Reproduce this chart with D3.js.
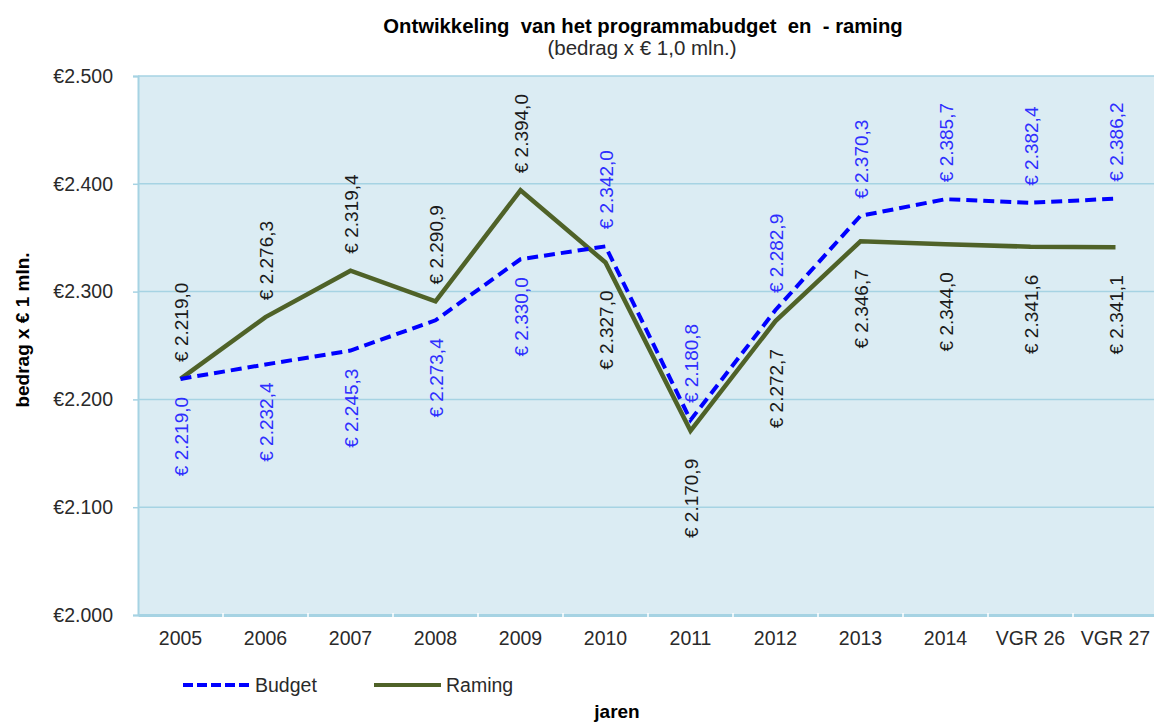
<!DOCTYPE html>
<html>
<head>
<meta charset="utf-8">
<script src="https://cdn.jsdelivr.net/npm/d3@7"></script>
<style>
  body { margin: 0; background: #fff; }
  svg { display: block; font-family: "Liberation Sans", Arial, sans-serif; }
</style>
</head>
<body>
<div class="js-chart"></div>
<script>
// chart data
var years = ['2005', '2006', '2007', '2008', '2009', '2010', '2011', '2012', '2013', '2014', 'VGR 26', 'VGR 27'];
var budget = [2219.0, 2232.4, 2245.3, 2273.4, 2330.0, 2342.0, 2180.8, 2282.9, 2370.3, 2385.7, 2382.4, 2386.2];
var raming = [2219.0, 2276.3, 2319.4, 2290.9, 2394.0, 2327.0, 2170.9, 2272.7, 2346.7, 2344.0, 2341.6, 2341.1];
var yTicks = [2000, 2100, 2200, 2300, 2400, 2500];

var width = 1154, height = 722;
var margin = {top: 76, right: -4, bottom: 107, left: 138};

var svg = d3.select('.js-chart').append('svg')
  .attr('width', width)
  .attr('height', height);

var xScale = d3.scaleBand()
  .domain(years)
  .range([margin.left, width - margin.right]);

var yScale = d3.scaleLinear()
  .domain([2000, 2500])
  .range([height - margin.bottom, margin.top]);

function xc(d) { return xScale(d) + xScale.bandwidth() / 2; }

function euro(v) {
  // 2219.0 -> "€ 2.219,0"
  var s = v.toFixed(1).split('.');
  var th = s[0].replace(/\B(?=(\d{3})+(?!\d))/g, '.');
  return '€ ' + th + ',' + s[1];
}

// plot background
svg.append('rect')
  .attr('x', margin.left)
  .attr('y', margin.top)
  .attr('width', xScale.range()[1] - margin.left)
  .attr('height', yScale(2000) - margin.top)
  .attr('fill', '#dbecf3');

// gridlines
svg.append('g')
  .selectAll('line')
  .data(yTicks.slice(1))
  .enter()
  .append('line')
  .attr('x1', margin.left)
  .attr('x2', xScale.range()[1])
  .attr('y1', function(d) { return yScale(d); })
  .attr('y2', function(d) { return yScale(d); })
  .attr('stroke', '#a6d3e3')
  .attr('stroke-width', 1.5);

// y axis
var yAxis = d3.axisLeft(yScale)
  .tickValues(yTicks)
  .tickSize(5)
  .tickPadding(20)
  .tickFormat(function(d) { return '€' + d3.format(',')(d).replace(',', '.'); });

var gy = svg.append('g')
  .attr('transform', 'translate(' + margin.left + ',0)')
  .call(yAxis);
gy.select('.domain').attr('stroke', '#a6d3e3').attr('stroke-width', 2);
gy.selectAll('.tick line').attr('stroke', '#a6d3e3').attr('stroke-width', 1.5);
gy.selectAll('.tick text').attr('fill', '#2a2a2a').style('font-size', '19.5px');

// x axis
var xAxis = d3.axisBottom(xScale)
  .tickSize(0)
  .tickPadding(16);

var gx = svg.append('g')
  .attr('transform', 'translate(0,' + yScale(2000) + ')')
  .call(xAxis);
gx.select('.domain').attr('stroke', '#a6d3e3').attr('stroke-width', 3);
gx.selectAll('.tick text').attr('fill', '#2a2a2a').style('font-size', '19.5px');

// white separators between categories on the x axis line
gx.selectAll('.sep')
  .data(years.slice(1))
  .enter()
  .append('line')
  .attr('class', 'sep')
  .attr('x1', function(d) { return xScale(d); })
  .attr('x2', function(d) { return xScale(d); })
  .attr('y1', -2)
  .attr('y2', 2)
  .attr('stroke', '#fff')
  .attr('stroke-width', 1.5);

// lines
var line = d3.line()
  .x(function(d, i) { return xc(years[i]); })
  .y(function(d) { return yScale(d); });

svg.append('path')
  .datum(raming)
  .attr('d', line)
  .attr('fill', 'none')
  .attr('stroke', '#4f6228')
  .attr('stroke-width', 4.5)
  .attr('stroke-linejoin', 'miter');

svg.append('path')
  .datum(budget)
  .attr('d', line)
  .attr('fill', 'none')
  .attr('stroke', '#0000ff')
  .attr('stroke-width', 4)
  .attr('stroke-dasharray', '11,6');

// value labels (rotated), above for the higher series, below for the lower
function drawLabels(values, other, color, isBudget, belowGap) {
  function isAbove(d, i) { return isBudget ? d > other[i] : d >= other[i]; }
  svg.append('g')
    .selectAll('text')
    .data(values)
    .enter()
    .append('text')
    .attr('transform', function(d, i) {
      var y = yScale(d) + (isAbove(d, i) ? -17 : belowGap);
      return 'translate(' + (xc(years[i]) + 7) + ',' + y + ') rotate(-90)';
    })
    .attr('text-anchor', function(d, i) { return isAbove(d, i) ? 'start' : 'end'; })
    .attr('fill', color)
    .style('font-size', '19px')
    .text(function(d) { return euro(d); });
}
drawLabels(budget, raming, '#2e2eff', true, 18);
drawLabels(raming, budget, '#1a1a1a', false, 28);

// titles
svg.append('text')
  .attr('x', 643)
  .attr('y', 33)
  .attr('text-anchor', 'middle')
  .style('font-size', '20.3px')
  .style('font-weight', 'bold')
  .style('white-space', 'pre')
  .text('Ontwikkeling  van het programmabudget  en  - raming');

svg.append('text')
  .attr('x', 642)
  .attr('y', 55)
  .attr('text-anchor', 'middle')
  .attr('fill', '#2a2a2a')
  .style('font-size', '20.5px')
  .text('(bedrag x € 1,0 mln.)');

svg.append('text')
  .attr('transform', 'translate(29,330) rotate(-90)')
  .attr('text-anchor', 'middle')
  .style('font-size', '19px')
  .style('font-weight', 'bold')
  .text('bedrag x € 1 mln.');

svg.append('text')
  .attr('x', 617)
  .attr('y', 718)
  .attr('text-anchor', 'middle')
  .style('font-size', '19px')
  .style('font-weight', 'bold')
  .text('jaren');

// legend
var legend = [
  {name: 'Budget', color: '#0000ff', dash: '10,4', x: 183},
  {name: 'Raming', color: '#4f6228', dash: null, x: 374}
];
var lg = svg.append('g').selectAll('g')
  .data(legend)
  .enter()
  .append('g')
  .attr('transform', function(d) { return 'translate(' + d.x + ',685)'; });
lg.append('line')
  .attr('x1', 0).attr('x2', 67)
  .attr('stroke', function(d) { return d.color; })
  .attr('stroke-width', 4)
  .attr('stroke-dasharray', function(d) { return d.dash; });
lg.append('text')
  .attr('x', 72)
  .attr('y', 7)
  .attr('fill', '#2a2a2a')
  .style('font-size', '19.5px')
  .text(function(d) { return d.name; });
</script>
</body>
</html>
